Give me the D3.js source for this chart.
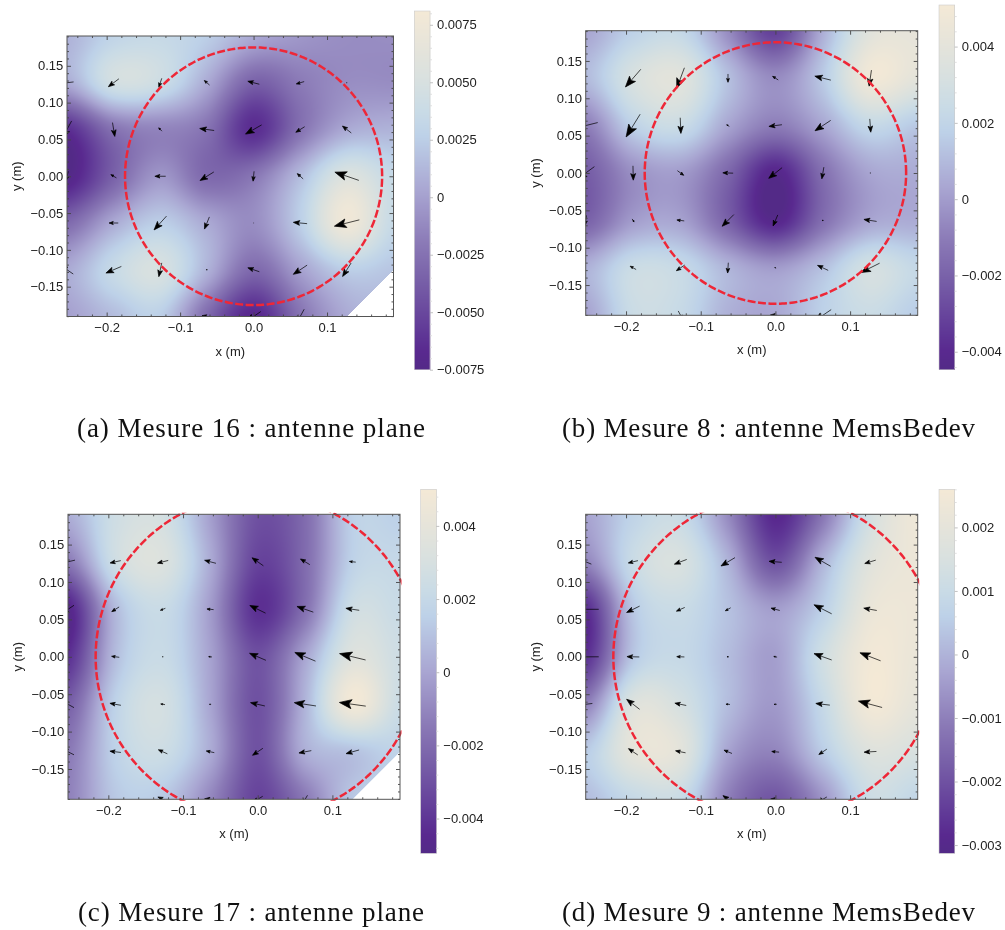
<!DOCTYPE html>
<html><head><meta charset="utf-8">
<script src="https://cdn.jsdelivr.net/npm/d3@7"></script>
<style>html,body{margin:0;padding:0;background:#fff}svg{display:block;filter:blur(0.35px)}text{font-family:"Liberation Sans",Arial,sans-serif;fill:#222}text.cap{font-family:"Liberation Serif",serif;fill:#111}</style>
</head><body><script>
const latticeX=[-0.254,-0.1905,-0.127,-0.0635,0,0.0635,0.127,0.1905];
const latticeY=[0.1905,0.127,0.0635,0,-0.0635,-0.127,-0.1905];
const colorStops=[0,0.05,0.1,0.25,0.35,0.5,0.65,0.72,0.8,0.9,1];
const colorRamp=["#532a87","#59298f","#5f3796","#7860a8","#8a79b6","#a9a6d2","#bdd1e8","#c9dbe6","#d7e0e0","#e6e4da","#f4e9d6"];
const xMajor=[-0.2,-0.1,0,0.1];
const yMajor=[-0.15,-0.1,-0.05,0,0.05,0.1,0.15];
const xMinor=[-0.24,-0.22,-0.18,-0.16,-0.14,-0.12,-0.08,-0.06,-0.04,-0.02,0.02,0.04,0.06,0.08,0.12,0.14,0.16,0.18];
const yMinor=[-0.19,-0.18,-0.17,-0.16,-0.14,-0.13,-0.12,-0.11,-0.09,-0.08,-0.07,-0.06,-0.04,-0.03,-0.02,-0.01,0.01,0.02,0.03,0.04,0.06,0.07,0.08,0.09,0.11,0.12,0.13,0.14,0.16,0.17,0.18,0.19];

// field values (x 1e-3), rows top to bottom, columns left to right
const fieldA=[[1,3,3.5,2.5,0.5,-0.5,-1,-1],[0.5,4.5,4,0.5,-3.5,-2,-1,-1],[-6.5,-2.5,-1.5,-2.5,-6.5,-2.5,0.5,1],[-7.5,-3.5,-0.5,-3,-2.2,1.5,5.5,3.5],[-3,0.5,2.5,0.5,-1,2.5,7.5,3.5],[0.5,3.5,5,1,-3,0,2.5,2],[0,1.5,2.5,-3,-7,-2.5,0.5,null]];
const fieldB=[[0.3,1.8,2.2,-0.5,-3.2,0.6,3.8,4.2],[1,3.2,3.8,1.2,-0.5,1.5,4.8,4],[-1,1.8,2.5,0.3,-1,0.3,2.2,1.5],[-2.2,-0.4,0,-1.8,-4.2,-1.5,0.3,0.5],[-2,0,0.2,-2,-4.2,-1.5,0.3,0.5],[0.7,2.5,2.3,0.8,0,1.2,3,2.2],[0.2,2.5,2.3,0.7,0.4,1.8,2.5,1.6]];
const fieldC=[[0.3,2.5,2.8,-0.2,-3,-2,1.5,1.5],[-1.5,2.5,3.3,0.2,-3.5,-2,1.6,2],[-4.8,0.7,2.2,-0.3,-4.2,-1.8,2.5,2.2],[-4.2,0.8,2.2,-0.1,-3,0,3.5,2.5],[-2.5,1.6,2.8,0,-3,0.5,4.8,2.3],[-1.5,1.6,2.4,0.2,-3,0.3,1,1.7],[-1.2,1.2,1.2,-1,-3.5,-1.5,1.2,null]];
const fieldD=[[-0.3,0.7,1,-0.8,-2.9,-1.2,1.3,2.4],[-0.9,1,1.5,0,-2,0,1.8,2.3],[-2.8,0.4,1,0.3,-0.4,0.6,2.2,2.3],[-2.7,0.4,0.9,0.2,-0.4,1.2,2.5,2.2],[-1,1.7,1.4,0.2,-0.5,0.9,2.5,2],[0.5,2,1.9,-0.3,-0.9,0.5,1.7,1.5],[0.2,0.9,1,-1,-1.9,-0.6,1.1,0.8]];

// vectors [u,v], y up; rows start at y=0.127, columns at x=-0.254
const vecA=[[[-40,-5],[-32,-24],[-9,-27],[-16,14],[-35,9],[-24,-7],[-2,0]],[[-28,-52],[7,-42],[-10,10],[-44,6],[-49,-28],[-27,-17],[-27,21]],[[-8,-30],[-17,10],[-33,0],[-42,-26],[-3,-30],[-18,16],[-73,25]],[null,[-28,0],[-38,-42],[-15,-37],[-1,0],[-42,4],[-76,-19]],[[-38,26],[-47,-20],[-9,-42],[-4,0],[-35,12],[-42,-28],[-26,-41]],[null,null,null,[-30,5],[-44,-30],[-24,-44],null]];
const vecB=[[null,[-46,-53],[-23,-62],[0,-25],[-17,11],[-48,12],[-7,-48]],[[-72,-18],[-42,-68],[2,-47],[-8,5],[-39,-5],[-47,-31],[3,-40]],[[-52,-38],[1,-43],[19,-14],[-31,1],[-40,-32],[-6,-35],[-2,0]],[[-5,-30],[6,-9],[-22,3],[-35,-35],[-14,-33],[-5,0],[-38,6]],[null,[-18,10],[-25,-17],[-2,-31],[-4,2],[-32,15],[-56,-28]],[null,null,[14,-26],null,[-30,2],[-50,-34],null]];
const vecC=[[[-42,-10],[-32,-7],[-32,-8],[-34,9],[-34,24],[-28,17],[-19,2]],[[-36,-24],[-22,-14],[-15,-6],[-20,2],[-47,23],[-49,17],[-40,6]],[null,[-23,3],[-3,0],[-10,1],[-49,21],[-62,26],[-78,19]],[[-36,20],[-33,6],[-13,2],[-5,0],[-43,10],[-65,10],[-79,11]],[[-36,18],[-33,4],[-27,12],[-24,5],[-31,-21],[-37,-7],[-39,-11]],[null,null,[-30,14],[-34,3],[-30,-18],[-14,-24],null]];
const vecD=[[[-34,14],[-29,-7],[-37,-14],[-42,-25],[-38,3],[-47,27],[-33,-10]],[[-78,0],[-39,-19],[-25,-11],[-16,-9],[-26,7],[-53,27],[-39,7]],[[-78,0],[-37,1],[-23,1],[-6,0],[-10,2],[-53,19],[-62,24]],[[-40,-5],[-39,30],[-34,7],[-12,1],[-8,0],[-42,5],[-71,19]],[null,[-28,19],[-30,6],[-24,10],[-22,2],[-24,-16],[-37,-2]],[null,null,null,[-30,22],[-28,2],[-24,-14],null]];

const barTicksA=[-7.5,-5,-2.5,0,2.5,5,7.5],barTicksB=[-4,-2,0,2,4],barTicksC=[-4,-2,0,2,4],barTicksD=[-3,-2,-1,0,1,2];
const captions=["(a) Mesure 16 : antenne plane","(b) Mesure 8 : antenne MemsBedev","(c) Mesure 17 : antenne plane","(d) Mesure 9 : antenne MemsBedev"];
const radii=[0.175,0.175,0.217,0.217];
const ranges=[[-7.5,8.1],[-4.46,5.09],[-4.95,5.0],[-3.13,2.6]];

const panels=[
 {field:fieldA,vec:vecA,bar:barTicksA,step:2.5,fmt:".4f",box:[67,393.5,36,316.5],barBox:[414.3,430,11,369.7],cap:[77,425,437]},
 {field:fieldB,vec:vecB,bar:barTicksB,step:2,fmt:".3f",box:[585.7,917.7,30.7,315.3],barBox:[939,954.7,5,369.3],cap:[562,975,437]},
 {field:fieldC,vec:vecC,bar:barTicksC,step:2,fmt:".3f",box:[68,400,514.3,799.3],barBox:[420.7,436.3,489.3,853.3],cap:[78,424,921]},
 {field:fieldD,vec:vecD,bar:barTicksD,step:1,fmt:".3f",box:[585.7,917.7,514.3,799.3],barBox:[939,954.7,489.3,853.3],cap:[562,975,921]}
];
const arrowUnit=1/(3*746);
const svg=d3.select("body").append("svg").attr("width",1005).attr("height",930);
const defs=svg.append("defs");
const ramp=d3.scaleLinear().domain(colorStops).range(colorRamp).interpolate(d3.interpolateRgb).clamp(true);

function cubic(a,b,c,d,t){return 0.5*(2*b+(c-a)*t+(2*a-5*b+4*c-d)*t*t+(3*b-a-3*c+d)*t*t*t);}
function fillGaps(f){
  return f.map((row,j)=>row.map((v,i)=>{
    if(v!==null) return v;
    const n=[];
    [[0,-1],[0,1],[-1,0],[1,0]].forEach(([a,b])=>{const r=f[j+b];if(r&&r[i+a]!=null)n.push(r[i+a]);});
    return d3.mean(n);
  }));
}
function sampler(f){
  const g=fillGaps(f),R=g.length,C=g[0].length;
  const at=(j,i)=>g[Math.max(0,Math.min(R-1,j))][Math.max(0,Math.min(C-1,i))];
  return (cx,cy)=>{
    const i=Math.max(0,Math.min(C-2,Math.floor(cx))),j=Math.max(0,Math.min(R-2,Math.floor(cy)));
    const u=cx-i,v=cy-j;
    if(f[j+1][i+1]===null&&u+v>1) return null;
    const rows=[-1,0,1,2].map(d=>cubic(at(j+d,i-1),at(j+d,i),at(j+d,i+1),at(j+d,i+2),u));
    return cubic(rows[0],rows[1],rows[2],rows[3],v);
  };
}
function paintImage(g,x0,y0,w,h,fn){
  const cw=Math.ceil(w),ch=Math.ceil(h);
  const cv=document.createElement("canvas");cv.width=cw;cv.height=ch;
  const c2=cv.getContext("2d"),img=c2.createImageData(cw,ch);
  for(let py=0;py<ch;py++)for(let px=0;px<cw;px++){
    const col=fn(x0+px+0.5,y0+py+0.5),k=(py*cw+px)*4;
    if(col===null)continue;
    const r=d3.rgb(col);
    img.data[k]=r.r;img.data[k+1]=r.g;img.data[k+2]=r.b;img.data[k+3]=255;
  }
  c2.putImageData(img,0,0);
  g.append("image").attr("x",x0).attr("y",y0).attr("width",cw).attr("height",ch).attr("preserveAspectRatio","none").attr("href",cv.toDataURL());
}
const styleTicks=(sel,col)=>{sel.select(".domain").remove();sel.selectAll(".tick line").attr("stroke",col).attr("stroke-width",0.9);};

panels.forEach((p,idx)=>{
  const [L,Rt,T,B]=p.box;
  const g=svg.append("g").attr("class","panel");
  const x=d3.scaleLinear().domain([latticeX[0],latticeX[7]]).range([L,Rt]);
  const y=d3.scaleLinear().domain([latticeY[6],latticeY[0]]).range([B,T]);
  const [vMin,vMax]=ranges[idx];
  const tScale=d3.scaleLinear().domain([vMin,vMax]).range([0,1]);
  const iX=d3.scaleLinear().domain(latticeX).range(d3.range(8));
  const iY=d3.scaleLinear().domain(latticeY.slice().reverse()).range(d3.range(7).reverse());
  const sample=sampler(p.field);
  const clipId="clip"+idx;
  defs.append("clipPath").attr("id",clipId).append("rect").attr("x",L).attr("y",T).attr("width",Rt-L).attr("height",B-T);
  defs.append("clipPath").attr("id",clipId+"c").append("rect").attr("x",L-1.5).attr("y",T-1.5).attr("width",Rt-L+3).attr("height",B-T+3);

  const imgG=g.append("g").attr("clip-path",`url(#${clipId})`);
  paintImage(imgG,L,T,Rt-L,B-T,(px,py)=>{
    const v=sample(iX(x.invert(px)),iY(y.invert(py)));
    return v===null?null:ramp(tScale(v));
  });

  // arrows
  const arrows=[];
  p.vec.forEach((row,j)=>row.forEach((d,i)=>{if(d)arrows.push({x0:latticeX[i],y0:latticeY[j+1],u:d[0]*arrowUnit,v:d[1]*arrowUnit});}));
  g.append("g").attr("clip-path",`url(#${clipId})`).selectAll("path").data(arrows).join("path")
    .attr("d",a=>{
      const tx=x(a.x0-a.u/2),ty=y(a.y0-a.v/2),hx=x(a.x0+a.u/2),hy=y(a.y0+a.v/2);
      const dx=hx-tx,dy=hy-ty,nx=-dy,ny=dx;
      const bx=hx-dx*0.46,by=hy-dy*0.46,mx=hx-dx*0.36,my=hy-dy*0.36;
      return `M${tx},${ty}L${mx},${my}M${hx},${hy}L${bx+nx*0.17},${by+ny*0.17}L${mx},${my}L${bx-nx*0.17},${by-ny*0.17}Z`;
    })
    .attr("fill","#000").attr("stroke","#000").attr("stroke-width",0.7);

  // circle
  const r=radii[idx];
  const pts=d3.range(0,361,1).map(a=>[r*Math.cos(a*Math.PI/180),r*Math.sin(a*Math.PI/180)]);
  g.append("g").attr("clip-path",`url(#${clipId}c)`).append("path")
    .attr("d",d3.line().x(d=>x(d[0])).y(d=>y(d[1]))(pts))
    .attr("fill","none").attr("stroke","#ee2737").attr("stroke-width",2.5).attr("stroke-dasharray","8 2.5");

  // frame and ticks
  const ax=(gen,tr,vals,size,labels)=>{
    const s=g.append("g").attr("transform",tr).call(gen.tickValues(vals).tickSizeOuter(0).tickSize(size).tickPadding(6).tickFormat(labels||""));
    styleTicks(s,"#444");s.selectAll("text").attr("font-size",13).attr("font-family",null);return s;
  };
  const fx=d3.format(".1f"),fy=d3.format(".2f");
  ax(d3.axisBottom(x),`translate(0,${B})`,xMajor,-4,d=>fx(d));
  ax(d3.axisBottom(x),`translate(0,${B})`,xMinor,-2);
  ax(d3.axisTop(x),`translate(0,${T})`,xMajor,-4);
  ax(d3.axisTop(x),`translate(0,${T})`,xMinor,-2);
  const yl=ax(d3.axisLeft(y),`translate(${L},0)`,yMajor,-4,d=>fy(d));
  yl.selectAll("text").attr("x",-3.7);
  ax(d3.axisLeft(y),`translate(${L},0)`,yMinor,-2);
  ax(d3.axisRight(y),`translate(${Rt},0)`,yMajor,-4);
  ax(d3.axisRight(y),`translate(${Rt},0)`,yMinor,-2);
  g.append("rect").attr("x",L).attr("y",T).attr("width",Rt-L).attr("height",B-T).attr("fill","none").attr("stroke","#555").attr("stroke-width",1);

  g.append("text").attr("x",(L+Rt)/2).attr("y",B+39).attr("text-anchor","middle").attr("font-size",13).text("x (m)");
  g.append("text").attr("transform",`translate(${L-50.3},${(T+B)/2}) rotate(-90)`).attr("text-anchor","middle").attr("font-size",13).attr("dy","0.32em").text("y (m)");

  // colour bar
  const [bL,bR,bT,bB]=p.barBox;
  const cy=d3.scaleLinear().domain([vMin,vMax]).range([bB,bT]);
  paintImage(g,bL,bT,bR-bL,bB-bT,(px,py)=>ramp(tScale(cy.invert(py))));
  g.append("rect").attr("x",bL).attr("y",bT).attr("width",bR-bL).attr("height",bB-bT).attr("fill","none").attr("stroke","#ccc").attr("stroke-width",0.6);
  const fb=d3.format(p.fmt);
  const major=p.bar;
  const minors=d3.range(Math.ceil(vMin*5/p.step),Math.floor(vMax*5/p.step)+1).map(k=>k*p.step/5).filter(v=>!major.some(m=>Math.abs(m-v)<1e-6));
  const bax=g.append("g").attr("transform",`translate(${bR},0)`)
    .call(d3.axisRight(cy).tickValues(major).tickSize(3).tickPadding(4).tickFormat(d=>d===0?"0":fb(d/1000)));
  styleTicks(bax,"#bbb");bax.selectAll("text").attr("font-size",13).attr("font-family",null);
  const bmx=g.append("g").attr("transform",`translate(${bR},0)`)
    .call(d3.axisRight(cy).tickValues(minors).tickSize(2).tickFormat(""));
  styleTicks(bmx,"#ddd");

  // caption
  g.append("text").attr("class","cap").attr("x",p.cap[0]).attr("y",p.cap[2]).attr("font-size",27)
    .attr("textLength",p.cap[1]-p.cap[0]).attr("lengthAdjust","spacing").text(captions[idx]);
});
</script></body></html>
